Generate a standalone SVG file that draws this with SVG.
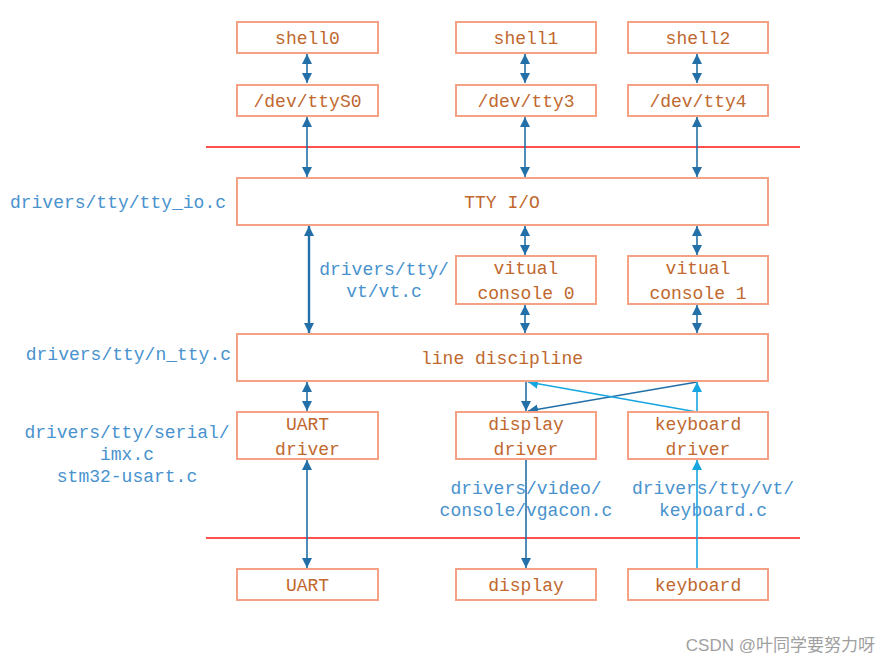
<svg xmlns="http://www.w3.org/2000/svg" width="889" height="664" viewBox="0 0 889 664">
<style>
.box{fill:#fff;stroke:#f4a283;stroke-width:2}
.t{font-family:"Liberation Mono",monospace;font-size:18px;fill:#c0682e;text-anchor:middle}
.lb{font-family:"Liberation Mono",monospace;font-size:18px;fill:#4892ce}
.d{stroke:#2370a8;stroke-width:1.6;fill:none}
.l{stroke:#17a6e0;stroke-width:1.6;fill:none}
.red{stroke:#ff1414;stroke-width:1.5}
</style>
<defs>
<marker id="ad" viewBox="0 0 10 10" refX="10" refY="5" markerWidth="10" markerHeight="10" markerUnits="userSpaceOnUse" orient="auto-start-reverse"><path d="M0,0 L10,5 L0,10 Z" fill="#2370a8"/></marker>
<marker id="al" viewBox="0 0 10 10" refX="10" refY="5" markerWidth="10" markerHeight="10" markerUnits="userSpaceOnUse" orient="auto-start-reverse"><path d="M0,0 L10,5 L0,10 Z" fill="#17a6e0"/></marker>
</defs>
<rect width="889" height="664" fill="#fff"/>
<line class="red" x1="206" y1="147" x2="800" y2="147"/>
<line class="red" x1="206" y1="538" x2="800" y2="538"/>
<g id="connectors">
<line class="d" x1="307" y1="54" x2="307" y2="83" marker-start="url(#ad)" marker-end="url(#ad)"/>
<line class="d" x1="525" y1="54" x2="525" y2="83" marker-start="url(#ad)" marker-end="url(#ad)"/>
<line class="d" x1="697" y1="54" x2="697" y2="83" marker-start="url(#ad)" marker-end="url(#ad)"/>
<line class="d" x1="307" y1="117" x2="307" y2="177" marker-start="url(#ad)" marker-end="url(#ad)"/>
<line class="d" x1="525" y1="117" x2="525" y2="177" marker-start="url(#ad)" marker-end="url(#ad)"/>
<line class="d" x1="697" y1="117" x2="697" y2="177" marker-start="url(#ad)" marker-end="url(#ad)"/>
<line class="d" style="stroke-width:2.4" x1="309" y1="226" x2="309" y2="333" marker-start="url(#ad)" marker-end="url(#ad)"/>
<line class="d" x1="525" y1="226" x2="525" y2="255" marker-start="url(#ad)" marker-end="url(#ad)"/>
<line class="d" x1="697" y1="226" x2="697" y2="255" marker-start="url(#ad)" marker-end="url(#ad)"/>
<line class="d" x1="525" y1="305" x2="525" y2="333" marker-start="url(#ad)" marker-end="url(#ad)"/>
<line class="d" x1="697" y1="305" x2="697" y2="333" marker-start="url(#ad)" marker-end="url(#ad)"/>
<line class="d" x1="307" y1="382" x2="307" y2="411" marker-start="url(#ad)" marker-end="url(#ad)"/>
<line class="d" x1="526" y1="382" x2="526" y2="411" marker-end="url(#ad)"/>
<line class="d" x1="697" y1="382" x2="528" y2="411" marker-end="url(#ad)"/>
<line class="l" x1="697" y1="412" x2="528" y2="382" marker-end="url(#al)"/>
<line class="l" x1="697" y1="412" x2="697" y2="382" marker-end="url(#al)"/>
<line class="d" x1="307" y1="460" x2="307" y2="568" marker-start="url(#ad)" marker-end="url(#ad)"/>
<line class="d" x1="526" y1="460" x2="526" y2="568" marker-end="url(#ad)"/>
<line class="l" x1="697" y1="568" x2="697" y2="460" marker-end="url(#al)"/>
</g>
<g id="shell0"><rect class="box" x="237" y="22" width="141" height="31"/><text class="t" x="307.5" y="44">shell0</text></g>
<g id="shell1"><rect class="box" x="456" y="22" width="140" height="31"/><text class="t" x="526" y="44">shell1</text></g>
<g id="shell2"><rect class="box" x="628" y="22" width="140" height="31"/><text class="t" x="698" y="44">shell2</text></g>
<g id="ttyS0"><rect class="box" x="237" y="85" width="141" height="31"/><text class="t" x="307.5" y="107">/dev/ttyS0</text></g>
<g id="tty3"><rect class="box" x="456" y="85" width="140" height="31"/><text class="t" x="526" y="107">/dev/tty3</text></g>
<g id="tty4"><rect class="box" x="628" y="85" width="140" height="31"/><text class="t" x="698" y="107">/dev/tty4</text></g>
<g id="ttyio"><rect class="box" x="237" y="178" width="531" height="47"/><text class="t" x="502" y="208">TTY I/O</text></g>
<g id="vc0"><rect class="box" x="456" y="256" width="140" height="48"/><text class="t" x="526" y="274">vitual</text><text class="t" x="526" y="299">console 0</text></g>
<g id="vc1"><rect class="box" x="628" y="256" width="140" height="48"/><text class="t" x="698" y="274">vitual</text><text class="t" x="698" y="299">console 1</text></g>
<g id="ldisc"><rect class="box" x="237" y="334" width="531" height="47"/><text class="t" x="502" y="364">line discipline</text></g>
<g id="uartdrv"><rect class="box" x="237" y="412" width="141" height="47"/><text class="t" x="307.5" y="430">UART</text><text class="t" x="307.5" y="455">driver</text></g>
<g id="dispdrv"><rect class="box" x="456" y="412" width="140" height="47"/><text class="t" x="526" y="430">display</text><text class="t" x="526" y="455">driver</text></g>
<g id="kbddrv"><rect class="box" x="628" y="412" width="140" height="47"/><text class="t" x="698" y="430">keyboard</text><text class="t" x="698" y="455">driver</text></g>
<g id="uart"><rect class="box" x="237" y="569" width="141" height="31"/><text class="t" x="307.5" y="591">UART</text></g>
<g id="display"><rect class="box" x="456" y="569" width="140" height="31"/><text class="t" x="526" y="591">display</text></g>
<g id="keyboard"><rect class="box" x="628" y="569" width="140" height="31"/><text class="t" x="698" y="591">keyboard</text></g>
<g id="labels">
<text class="lb" x="226" y="208" text-anchor="end">drivers/tty/tty_io.c</text>
<text class="lb" x="384" y="275" text-anchor="middle">drivers/tty/</text>
<text class="lb" x="384" y="297" text-anchor="middle">vt/vt.c</text>
<text class="lb" x="231" y="360" text-anchor="end">drivers/tty/n_tty.c</text>
<text class="lb" x="127" y="438" text-anchor="middle">drivers/tty/serial/</text>
<text class="lb" x="127" y="460" text-anchor="middle">imx.c</text>
<text class="lb" x="127" y="482" text-anchor="middle">stm32-usart.c</text>
<text class="lb" x="526" y="494" text-anchor="middle">drivers/video/</text>
<text class="lb" x="526" y="516" text-anchor="middle">console/vgacon.c</text>
<text class="lb" x="713" y="494" text-anchor="middle">drivers/tty/vt/</text>
<text class="lb" x="713" y="516" text-anchor="middle">keyboard.c</text>
</g>
<text x="875" y="651" text-anchor="end" style="font-family:'Liberation Sans','Noto Sans CJK SC',sans-serif;font-size:17px;fill:#a0a0a0">CSDN @叶同学要努力呀</text>
</svg>
